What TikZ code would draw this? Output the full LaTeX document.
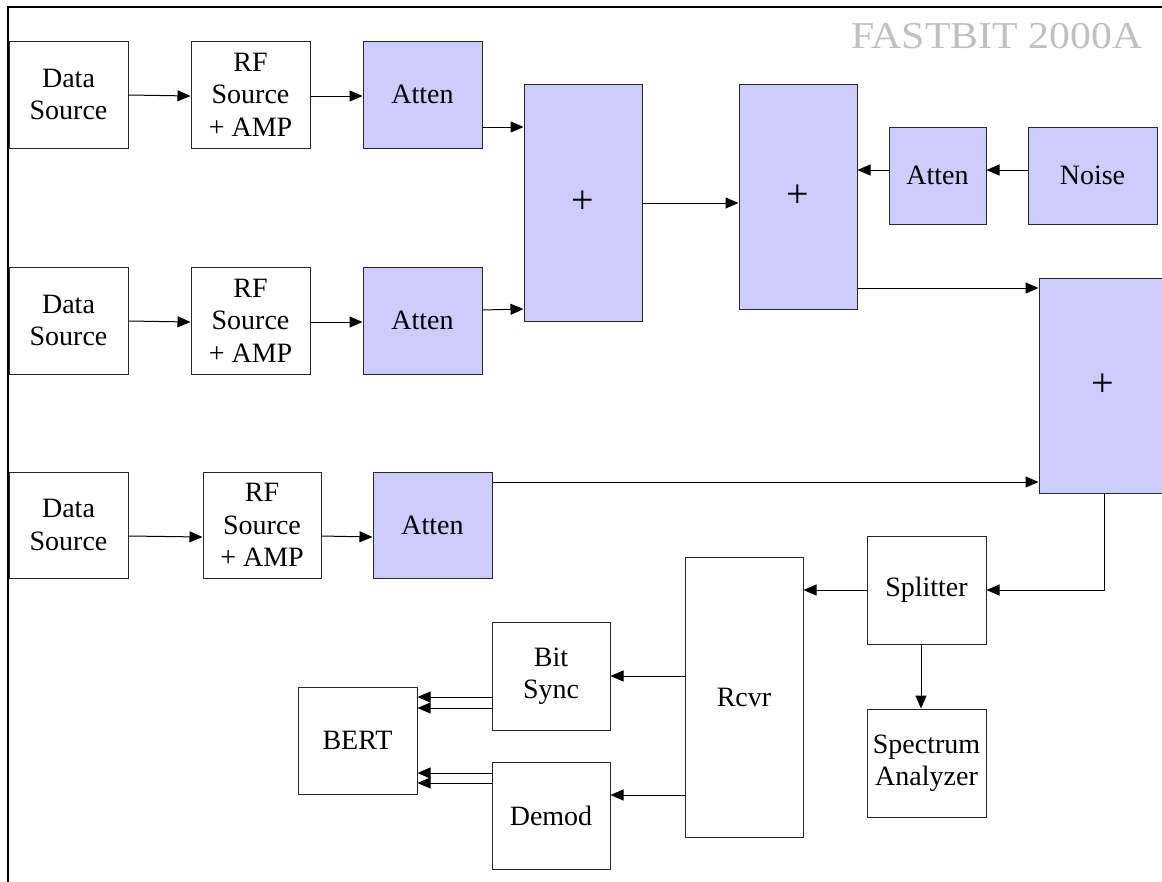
\documentclass[tikz,border=0pt]{standalone}
\usepackage{fontspec}
\setmainfont{Liberation Serif}
\usetikzlibrary{arrows.meta}
\definecolor{lav}{RGB}{204,204,255}
\definecolor{edge}{RGB}{40,40,40}
\definecolor{titlegray}{RGB}{192,192,192}
\tikzset{
  blk/.style={draw=edge, line width=1pt, fill=white, inner sep=0pt, align=center,
    font=\fontsize{28}{32.5}\selectfont},
  fblk/.style={blk, fill=lav},
  plusblk/.style={fblk, font=\fontsize{40}{44}\selectfont},
  arr/.style={line width=1pt, -{Triangle[length=13pt,width=11pt]}},
}
\begin{document}
\begin{tikzpicture}[x=1pt,y=-1pt]
\useasboundingbox (0,0) rectangle (1162,881);
\draw[line width=2pt] (8,890) -- (8,7) -- (1170,7);
\node[font=\fontsize{38}{40}\selectfont, text=titlegray, anchor=base] (title) at (997,48) {\scalebox{1.1}[1]{FASTBIT 2000A}};

% row 1
\node[blk, minimum width=119pt, minimum height=107pt] (ds1) at (68.5,94.5) {Data\\Source};
\node[blk, minimum width=119pt, minimum height=107pt] (rf1) at (250.5,94.5) {RF\\Source\\+ AMP};
\node[fblk, minimum width=119pt, minimum height=107pt] (at1) at (422.5,94.5) {Atten};
% row 2
\node[blk, minimum width=119pt, minimum height=107pt] (ds2) at (68.5,320.5) {Data\\Source};
\node[blk, minimum width=119pt, minimum height=107pt] (rf2) at (250.5,320.5) {RF\\Source\\+ AMP};
\node[fblk, minimum width=119pt, minimum height=107pt] (at2) at (422.5,320.5) {Atten};
% row 3
\node[blk, minimum width=119pt, minimum height=106pt] (ds3) at (68.5,525) {Data\\Source};
\node[blk, minimum width=118pt, minimum height=106pt] (rf3) at (262,525) {RF\\Source\\+ AMP};
\node[fblk, minimum width=119pt, minimum height=106pt] (at3) at (432.5,525) {Atten};
% summers
\node[plusblk, minimum width=118pt, minimum height=237pt] (sum1) at (583,202.5) {+};
\node[plusblk, minimum width=118pt, minimum height=225pt] (sum2) at (798,196.5) {+};
\node[fblk, minimum width=97pt, minimum height=97pt] (atn) at (937.5,175.5) {Atten};
\node[fblk, minimum width=129pt, minimum height=97pt] (noise) at (1092.5,175.5) {Noise};
\node[plusblk, minimum width=128pt, minimum height=215pt] (sum3) at (1103,385.5) {+};
% receiver chain
\node[blk, minimum width=119pt, minimum height=108pt] (split) at (926.5,590) {Splitter};
\node[blk, minimum width=119pt, minimum height=108pt] (spec) at (926.5,763) {Spectrum\\Analyzer};
\node[blk, minimum width=118pt, minimum height=280pt] (rcvr) at (744,697) {Rcvr};
\node[blk, minimum width=118pt, minimum height=108pt] (bsync) at (551,676) {Bit\\Sync};
\node[blk, minimum width=118pt, minimum height=107pt] (demod) at (551,815.5) {Demod};
\node[blk, minimum width=119pt, minimum height=107pt] (bert) at (357.5,740.5) {BERT};

% connectors row 1
\draw[arr] (ds1.east |- 0,95) -- (rf1.west |- 0,96);
\draw[arr] (rf1.east |- 0,96) -- (at1.west |- 0,96);
\draw[arr] (at1.east |- 0,127) -- (sum1.west |- 0,127);
% row 2
\draw[arr] (ds2.east |- 0,321) -- (rf2.west |- 0,322);
\draw[arr] (rf2.east |- 0,322) -- (at2.west |- 0,322);
\draw[arr] (at2.east |- 0,310) -- (sum1.west |- 0,309);
% row 3
\draw[arr] (ds3.east |- 0,536) -- (rf3.west |- 0,537);
\draw[arr] (rf3.east |- 0,536) -- (at3.west |- 0,537);
\draw[arr] (at3.east |- 0,482) -- (sum3.west |- 0,482);
% summers
\draw[arr] (sum1.east |- 0,203) -- (sum2.west |- 0,203);
\draw[arr] (noise.west |- 0,170) -- (atn.east |- 0,170);
\draw[arr] (atn.west |- 0,170) -- (sum2.east |- 0,170);
\draw[arr] (sum2.east |- 0,288) -- (sum3.west |- 0,288);
% receiver chain
\draw[arr] (sum3.south -| 1104,0) |- (split.east);
\draw[arr] (split.west) -- (rcvr.east |- split.west);
\draw[arr] (split.south -| 921,0) -- (spec.north -| 921,0);
\draw[arr] (rcvr.west |- 0,676) -- (bsync.east |- 0,676);
\draw[arr] (rcvr.west |- 0,795) -- (demod.east |- 0,795);
\draw[arr] (bsync.west |- 0,697) -- (bert.east |- 0,697);
\draw[arr] (bsync.west |- 0,708) -- (bert.east |- 0,708);
\draw[arr] (demod.west |- 0,773) -- (bert.east |- 0,773);
\draw[arr] (demod.west |- 0,783) -- (bert.east |- 0,783);
\end{tikzpicture}
\end{document}
